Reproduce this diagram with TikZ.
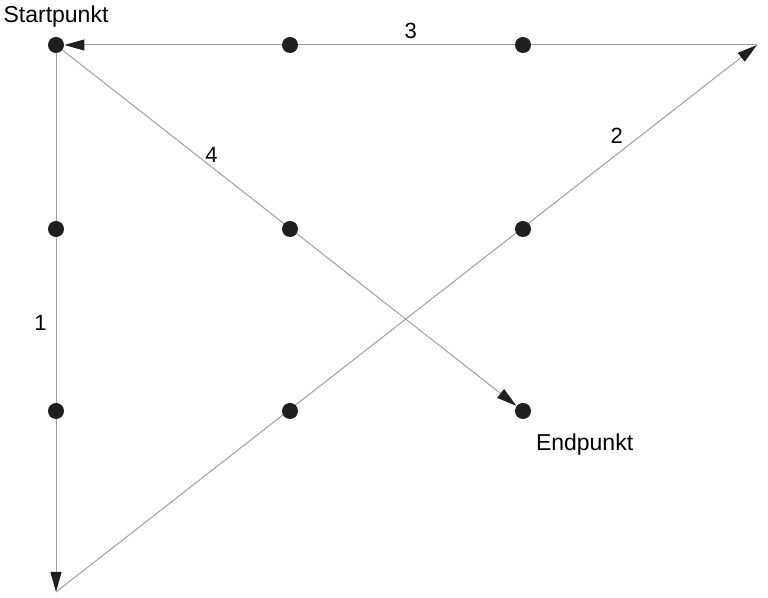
\documentclass[tikz,border=0pt]{standalone}
\usepackage{fontspec}
\setmainfont{Liberation Sans}
\usetikzlibrary{arrows.meta,positioning,backgrounds}
\tikzset{
  dot/.style={circle,fill=black!88,inner sep=0pt,minimum size=8pt},
  % connecting lines
  zug/.style={gray!75,line width=0.5pt,-{Triangle[length=10pt,width=5.5pt,black!88]}},
  nr/.style={text=black,font=\fontsize{11}{13}\selectfont,inner sep=2pt},
}

\begin{document}
\begin{tikzpicture}[x=0.5pt,y=-0.5pt,
  every node/.style={font=\fontsize{11.5}{13}\selectfont},
]
\useasboundingbox (0,0) rectangle (768,598);

%% Raster 3x3
\node[dot] (p11) at (56,45)   {};
\node[dot] (p12) at (290,45)  {};
\node[dot] (p13) at (523,45)  {};
\node[dot] (p21) at (56,229)  {};
\node[dot] (p22) at (290,229) {};
\node[dot] (p23) at (523,229) {};
\node[dot] (p31) at (56,411)  {};
\node[dot] (p32) at (290,411) {};
\node[dot] (p33) at (523,411) {};

\coordinate (ecke1) at (56,592);
\coordinate (ecke2) at (757,45);

\node[above=1pt of p11] (start) {Startpunkt};
\node[below right=5pt and 0pt of p33] (ende) {Endpunkt};

%% Linienzug 1-4
\begin{scope}[on background layer]
\draw[zug] (p11) -- node[nr,midway,left=2.5pt] (n1) {1} (ecke1);
\draw[zug] (ecke1) -- node[nr,pos=0.8,above=3pt] (n2) {2} (ecke2);
\draw[zug] (ecke2) -- node[nr,midway,above=1pt] (n3) {3} (p11);
\draw[zug] (p11) -- node[nr,pos=0.328,above=0pt] (n4) {4} (p33);
\end{scope}
\end{tikzpicture}
\end{document}
